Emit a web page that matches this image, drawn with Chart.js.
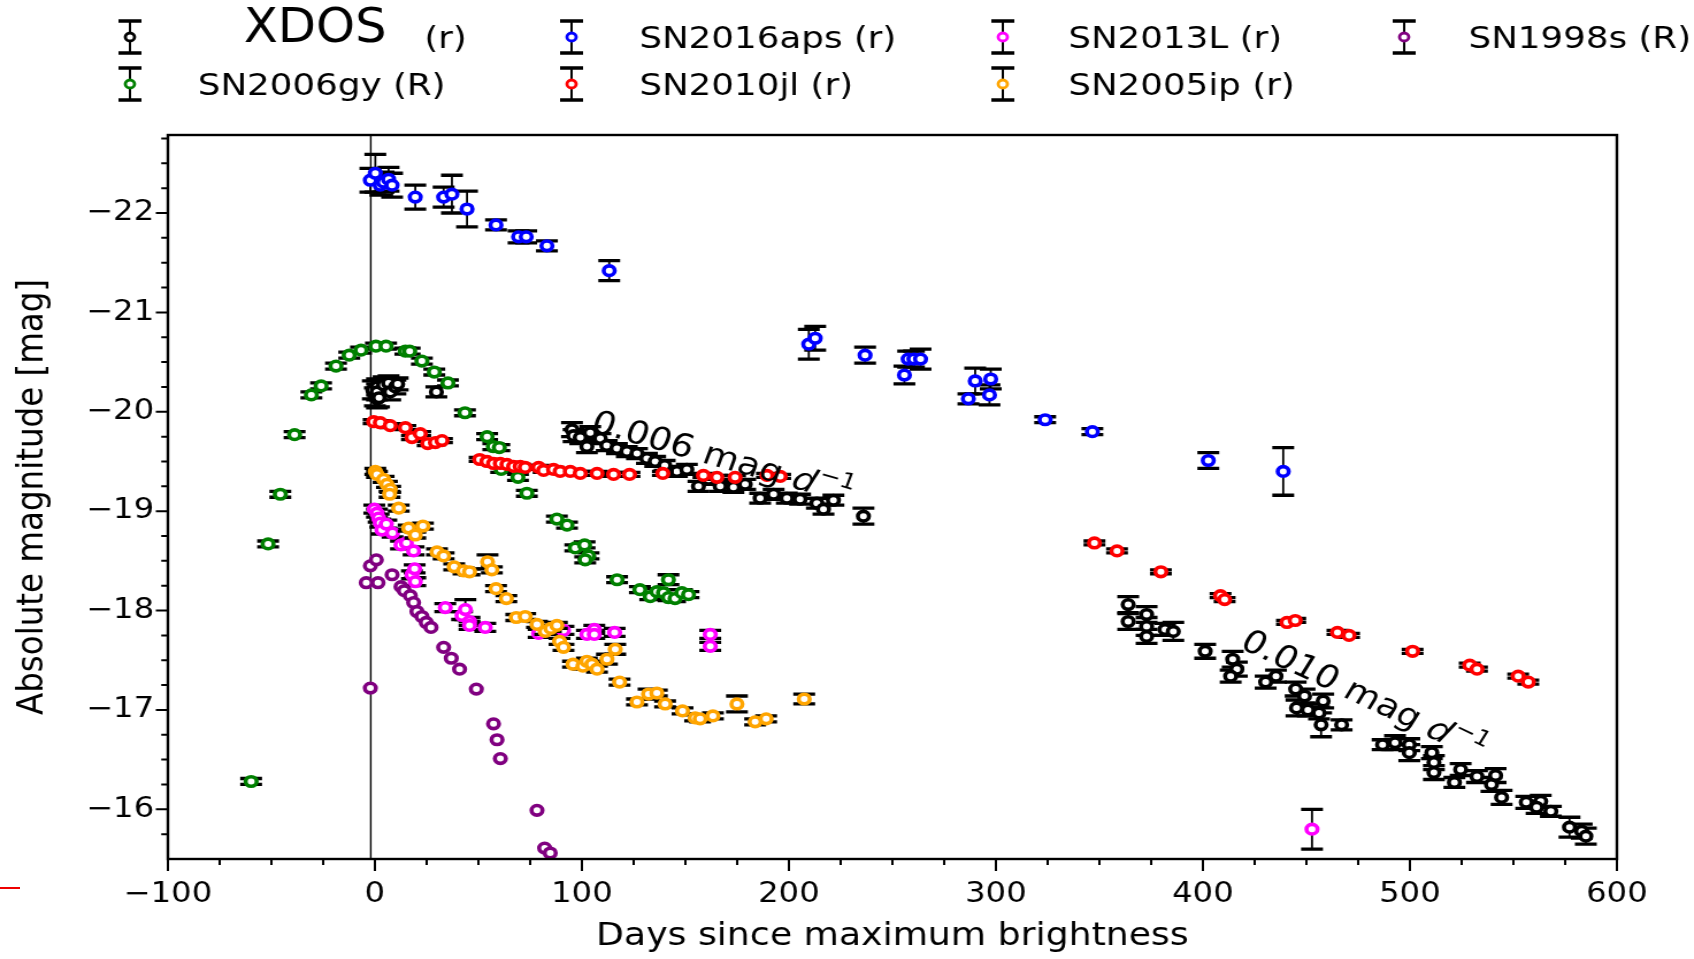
<!DOCTYPE html>
<html>
<head>
<meta charset="utf-8">
<script src="https://cdn.jsdelivr.net/npm/chart.js@4.4.1/dist/chart.umd.min.js"></script>
<style>
  body { margin: 0; background: #fff; overflow: hidden; }
  /* the reference figure is stretched sideways, so the whole canvas is too */
  #wrap { position: absolute; left: 0; top: 0; width: 1473px; height: 959px; transform: scaleX(1.15); transform-origin: 0 0; }
  #stray { position: absolute; left: 0; top: 887px; width: 20px; height: 2px; background: #e00; }
</style>
</head>
<body>
<div id="wrap"><canvas id="lc" width="1473" height="959"></canvas></div>
<div id="stray"></div>
<script>
const FONT = "'DejaVu Sans', sans-serif";

// light curves: days since max, absolute magnitude, error (mag)
const xdosDays = [-1, 0, 1, 1, 1, 2, 4.2, 6.6, 7.4, 9.9, 11, 29.7,
  95.2, 96, 99.2, 102.4, 104, 108.9, 112, 116.9, 121.7, 126.6, 131.4, 135.4, 140, 145.9, 150.7, 156.3, 161.2, 166.8, 173.2, 178.9, 186.1, 192.6, 199, 205.4, 213.5, 216.7, 221.5, 236,
  363.9, 363.9, 372.8, 372.8, 372.8, 381.7, 385.7, 401.1, 414.4, 416.4, 413.4, 430.3, 435.3, 444.8, 449.1, 445.2, 450.7, 458.1, 456.1, 457.1, 467, 486.8, 492.8, 499.7, 499.7, 510.6, 511.6, 511.6, 521.5, 524.5, 532.4, 539.4, 541.4, 544.3, 556.2, 563.2, 561.2, 568.1, 577.1, 583, 585];
const xdosMag = [-20.22, -20.15, -20.25, -20.20, -20.13, -20.14, -20.27, -20.29, -20.20, -20.25, -20.28, -20.20,
  -19.82, -19.76, -19.74, -19.65, -19.79, -19.73, -19.66, -19.63, -19.60, -19.58, -19.53, -19.50, -19.46, -19.40, -19.42, -19.25, -19.32, -19.25, -19.24, -19.27, -19.13, -19.17, -19.13, -19.12, -19.08, -19.02, -19.11, -18.95,
  -18.06, -17.89, -17.96, -17.84, -17.74, -17.81, -17.79, -17.59, -17.51, -17.41, -17.34, -17.28, -17.34, -17.21, -17.14, -17.02, -17.00, -17.09, -16.97, -16.85, -16.85, -16.65, -16.67, -16.65, -16.57, -16.57, -16.47, -16.37, -16.27, -16.40, -16.33, -16.25, -16.34, -16.12, -16.07, -16.08, -16.02, -15.98, -15.82, -15.78, -15.73];
const xdosErr = [0.09, 0.09, 0.08, 0.08, 0.09, 0.09, 0.08, 0.07, 0.08, 0.07, 0.06, 0.05,
  0.07, 0.06, 0.06, 0.06, 0.06, 0.05, 0.05, 0.05, 0.05, 0.05, 0.05, 0.05, 0.05, 0.05, 0.05, 0.05, 0.05, 0.05, 0.05, 0.05, 0.05, 0.05, 0.05, 0.05, 0.05, 0.05, 0.05, 0.08,
  0.08, 0.08, 0.08, 0.09, 0.07, 0.06, 0.09, 0.07, 0.08, 0.07, 0.06, 0.06, 0.06, 0.07, 0.07, 0.08, 0.06, 0.07, 0.06, 0.12, 0.05, 0.05, 0.07, 0.06, 0.08, 0.06, 0.07, 0.07, 0.05, 0.06, 0.06, 0.07, 0.07, 0.07, 0.06, 0.06, 0.06, 0.05, 0.10, 0.07, 0.08];

const gyDays = [-59.8, -51.6, -45.7, -38.8, -30.7, -26, -18.8, -12.4, -6.7, 0.5, 5.4, 14.7, 16.8, 22.7, 28.7, 35.3, 43.5, 54.2, 57.2, 60.1, 61, 69.1, 73.4, 87.9, 92.8, 96.8, 101.3, 103.2, 101.6, 117, 128, 133, 136.2, 139.4, 141.8, 141.8, 145, 148.3, 151.5];
const gyMag = [-16.28, -18.67, -19.17, -19.77, -20.17, -20.26, -20.46, -20.57, -20.62, -20.66, -20.66, -20.61, -20.61, -20.51, -20.40, -20.29, -19.99, -19.75, -19.65, -19.64, -19.42, -19.34, -19.18, -18.92, -18.86, -18.63, -18.66, -18.55, -18.51, -18.31, -18.21, -18.14, -18.19, -18.18, -18.31, -18.13, -18.12, -18.18, -18.16];
const gyErr = [0.03, 0.03, 0.03, 0.03, 0.03, 0.03, 0.03, 0.03, 0.03, 0.03, 0.03, 0.03, 0.03, 0.03, 0.03, 0.03, 0.03, 0.03, 0.03, 0.03, 0.03, 0.03, 0.03, 0.03, 0.03, 0.03, 0.03, 0.03, 0.03, 0.03, 0.03, 0.03, 0.03, 0.03, 0.05, 0.03, 0.03, 0.03, 0.03];

const apsDays = [-2.2, 0.2, 2.6, 4.2, 6.6, 8.3, 19.5, 33.2, 37.2, 44.5, 58.5, 69.4, 73.1, 83.1, 113.2, 209.6, 212.7, 236.8, 255.8, 257.6, 260.4, 263.6, 286.7, 290, 296.9, 297.5, 323.8, 346.6, 402.6, 438.8];
const apsMag = [-22.33, -22.40, -22.28, -22.31, -22.34, -22.28, -22.16, -22.16, -22.19, -22.04, -21.88, -21.76, -21.76, -21.67, -21.42, -20.68, -20.74, -20.57, -20.37, -20.53, -20.53, -20.53, -20.13, -20.31, -20.17, -20.33, -19.92, -19.80, -19.51, -19.40];
const apsErr = [0.12, 0.19, 0.10, 0.10, 0.12, 0.12, 0.12, 0.10, 0.19, 0.18, 0.05, 0.06, 0.06, 0.05, 0.10, 0.15, 0.12, 0.08, 0.09, 0.08, 0.08, 0.10, 0.05, 0.13, 0.10, 0.10, 0.03, 0.03, 0.08, 0.24];

const jlDays = [-0.6, 2.6, 7.4, 14.7, 17.9, 21.9, 25.5, 29.2, 32.4, 50.6, 54.1, 57.3, 60.6, 63.8, 67, 70.2, 72.6, 79.1, 81.5, 86.3, 89.5, 94.4, 99.2, 107.3, 115.3, 123, 139.1, 158.7, 165.2, 174, 189.4, 195.8, 347.6, 358.5, 379.7, 408.5, 410.5, 440.6, 444.6, 465, 470.6, 501.3, 528.9, 532.4, 552.3, 557.2];
const jlMag = [-19.90, -19.89, -19.86, -19.84, -19.74, -19.78, -19.68, -19.69, -19.71, -19.52, -19.50, -19.48, -19.48, -19.47, -19.45, -19.45, -19.44, -19.44, -19.41, -19.42, -19.40, -19.40, -19.38, -19.38, -19.37, -19.37, -19.38, -19.36, -19.34, -19.34, -19.36, -19.35, -18.68, -18.60, -18.39, -18.15, -18.11, -17.88, -17.90, -17.78, -17.75, -17.59, -17.45, -17.41, -17.34, -17.28];
const jlErr = [0.02, 0.02, 0.02, 0.02, 0.02, 0.02, 0.02, 0.02, 0.02, 0.02, 0.02, 0.02, 0.02, 0.02, 0.02, 0.02, 0.02, 0.02, 0.02, 0.02, 0.02, 0.02, 0.02, 0.02, 0.02, 0.02, 0.02, 0.02, 0.02, 0.02, 0.02, 0.02, 0.02, 0.02, 0.02, 0.02, 0.02, 0.02, 0.02, 0.02, 0.02, 0.02, 0.02, 0.02, 0.02, 0.02];

const l13Days = [-0.3, 1, 1.8, 2.6, 3.4, 5.5, 8.5, 12.6, 15.2, 17.9, 18.7, 19.2, 19.5, 34, 42.1, 43.7, 45.7, 45.7, 53.3, 79.1, 91.1, 102.4, 106, 106, 115.8, 162, 162, 452.7];
const l13Mag = [-19.02, -18.98, -18.93, -18.88, -18.81, -18.87, -18.78, -18.66, -18.68, -18.36, -18.60, -18.42, -18.29, -18.03, -17.95, -18.01, -17.89, -17.85, -17.83, -17.77, -17.80, -17.76, -17.81, -17.76, -17.78, -17.76, -17.64, -15.80];
const l13Err = [0.04, 0.04, 0.04, 0.04, 0.04, 0.04, 0.04, 0.04, 0.04, 0.04, 0.04, 0.04, 0.04, 0.04, 0.04, 0.10, 0.04, 0.04, 0.04, 0.04, 0.04, 0.04, 0.04, 0.04, 0.04, 0.04, 0.04, 0.20];

const ipDays = [0.2, 1, 4.2, 5.8, 7.4, 7.1, 11.5, 16.3, 19.5, 23.2, 30, 33.2, 38.3, 42.8, 45.7, 54.4, 56.5, 58.5, 63.5, 68.3, 72.6, 78.3, 82.3, 85, 87.9, 89.2, 91.1, 95.7, 100.5, 102.4, 104.8, 107.3, 112.1, 116.1, 118.2, 126.6, 132.2, 136.2, 140.2, 148.6, 154.7, 157.1, 163.3, 174.9, 183.7, 189, 207.4];
const ipMag = [-19.40, -19.37, -19.32, -19.27, -19.22, -19.17, -19.03, -18.83, -18.76, -18.85, -18.59, -18.55, -18.44, -18.40, -18.39, -18.49, -18.41, -18.22, -18.12, -17.93, -17.94, -17.86, -17.79, -17.82, -17.85, -17.69, -17.63, -17.46, -17.44, -17.49, -17.46, -17.41, -17.51, -17.61, -17.28, -17.08, -17.16, -17.17, -17.06, -16.99, -16.92, -16.91, -16.94, -17.06, -16.88, -16.91, -17.11];
const ipErr = [0.03, 0.03, 0.03, 0.03, 0.03, 0.03, 0.03, 0.03, 0.03, 0.03, 0.03, 0.03, 0.03, 0.03, 0.03, 0.07, 0.03, 0.03, 0.03, 0.03, 0.03, 0.03, 0.03, 0.03, 0.03, 0.03, 0.03, 0.03, 0.03, 0.03, 0.03, 0.03, 0.05, 0.05, 0.03, 0.03, 0.05, 0.03, 0.03, 0.03, 0.03, 0.03, 0.03, 0.08, 0.03, 0.03, 0.05];

// SN1998s has no error bars
const s98Days = [-4.2, -2.2, 0.7, 1.5, 8.3, 12.6, 14.2, 17.1, 18.7, 20.3, 22.7, 24.8, 27.1, 33.2, 36.9, 40.9, 49, 57.3, 59, 60.6, -2.2, 78.3, 82, 84.7];
const s98Mag = [-18.28, -18.45, -18.51, -18.28, -18.36, -18.24, -18.20, -18.15, -18.08, -17.99, -17.94, -17.88, -17.83, -17.63, -17.52, -17.41, -17.21, -16.86, -16.70, -16.51, -17.22, -15.99, -15.61, -15.56];

const seriesLabels = ['XDOS (r)', 'SN2006gy (R)', 'SN2016aps (r)', 'SN2010jl (r)', 'SN2013L (r)', 'SN2005ip (r)', 'SN1998s (R)'];
const seriesColors = ['#000000', '#008000', '#0000ff', '#ff0000', '#ff00ff', '#ffa500', '#800080'];

const xTicks = [-100, 0, 100, 200, 300, 400, 500, 600];
const yTicks = [-22, -21, -20, -19, -18, -17, -16];
const vlineDay = -2;
const notes = [
  { text: '0.006 mag', day: 168, mag: -19.56, angle: 18 },
  { text: '0.010 mag', day: 478, mag: -17.17, angle: 28.5 }
];

const allDays = [xdosDays, gyDays, apsDays, jlDays, l13Days, ipDays, s98Days];
const allMag = [xdosMag, gyMag, apsMag, jlMag, l13Mag, ipMag, s98Mag];
const allErr = [xdosErr, gyErr, apsErr, jlErr, l13Err, ipErr, null];

const fmt = v => (v < 0 ? '\u2212' : '') + Math.abs(v);

// black error bars, drawn just before each series' markers (like plt.errorbar)
const errorBars = {
  id: 'errorBars',
  beforeDatasetDraw(chart, args) {
    const ds = chart.data.datasets[args.index];
    if (!ds.errors) return;
    const { ctx, chartArea: a } = chart;
    const ys = chart.scales.y;
    ctx.save();
    ctx.beginPath();
    ctx.rect(a.left, a.top, a.right - a.left, a.bottom - a.top);
    ctx.clip();
    ctx.strokeStyle = '#000';
    args.meta.data.forEach((pt, i) => {
      const e = ds.errors[i];
      const v = ds.data[i].y;
      const y1 = ys.getPixelForValue(v - e), y2 = ys.getPixelForValue(v + e);
      ctx.lineWidth = 1.8;
      ctx.beginPath(); ctx.moveTo(pt.x, y1); ctx.lineTo(pt.x, y2); ctx.stroke();
      ctx.lineWidth = 3.3;
      ctx.beginPath();
      ctx.moveTo(pt.x - 9.5, y1); ctx.lineTo(pt.x + 9.5, y1);
      ctx.moveTo(pt.x - 9.5, y2); ctx.lineTo(pt.x + 9.5, y2);
      ctx.stroke();
    });
    ctx.restore();
  }
};

// frame, ticks (major + minor) and the vertical line at max
const frame = {
  id: 'frame',
  beforeDatasetsDraw(chart) {
    const { ctx, chartArea: a, scales: { x } } = chart;
    const px = x.getPixelForValue(vlineDay);
    ctx.save();
    ctx.strokeStyle = '#000'; ctx.lineWidth = 1.4;
    ctx.beginPath(); ctx.moveTo(px, a.top); ctx.lineTo(px, a.bottom); ctx.stroke();
    ctx.restore();
  },
  afterDatasetsDraw(chart) {
    const { ctx, chartArea: a, scales: { x, y } } = chart;
    ctx.save();
    ctx.strokeStyle = '#000';
    ctx.lineWidth = 2.4;
    ctx.strokeRect(a.left, a.top, a.right - a.left, a.bottom - a.top);
    ctx.lineWidth = 2;
    ctx.beginPath();
    for (let v = x.min; v <= x.max + 0.01; v += 25) {
      const p = x.getPixelForValue(v);
      const len = xTicks.includes(v) ? 12 : 6;
      ctx.moveTo(p, a.bottom); ctx.lineTo(p, a.bottom + len);
    }
    for (let v = -22.75; v < y.max - 0.01; v += 0.25) {
      const p = y.getPixelForValue(v);
      const len = Math.abs(v - Math.round(v)) < 0.01 ? 10.5 : 5.8;
      ctx.moveTo(a.left, p); ctx.lineTo(a.left - len, p);
    }
    ctx.stroke();
    ctx.restore();
  }
};

// rotated decline-rate labels
const notesPlugin = {
  id: 'notes',
  afterDatasetsDraw(chart) {
    const { ctx, scales: { x, y } } = chart;
    notes.forEach(n => {
      ctx.save();
      ctx.translate(x.getPixelForValue(n.day), y.getPixelForValue(n.mag));
      ctx.rotate(n.angle * Math.PI / 180);
      ctx.fillStyle = '#000';
      ctx.textBaseline = 'alphabetic';
      ctx.textAlign = 'left';
      const f1 = '32px ' + FONT, f2 = 'italic 32px ' + FONT, f3 = '22px ' + FONT;
      ctx.font = f1; const w1 = ctx.measureText(n.text + ' ').width;
      ctx.font = f2; const w2 = ctx.measureText('d').width;
      ctx.font = f3; const w3 = ctx.measureText('\u22121').width;
      let sx = -(w1 + w2 + w3) / 2;
      ctx.font = f1; ctx.fillText(n.text + ' ', sx, 12); sx += w1;
      ctx.font = f2; ctx.fillText('d', sx, 12); sx += w2 + 1;
      ctx.font = f3; ctx.fillText('\u22121', sx, -2);
      ctx.restore();
    });
  }
};

// matplotlib style legend, 4 columns filled column-wise
const legendPos = { markerX: [113, 497, 872, 1221], textX: [172, 556, 929, 1277], rowY: [37, 84] };
const legendPlugin = {
  id: 'mplLegend',
  afterDraw(chart) {
    const ctx = chart.ctx;
    ctx.save();
    chart.data.datasets.forEach((ds, i) => {
      const col = Math.floor(i / 2), row = i % 2;
      const mx = legendPos.markerX[col], my = legendPos.rowY[row];
      ctx.strokeStyle = '#000';
      ctx.lineWidth = 2;
      ctx.beginPath(); ctx.moveTo(mx, my - 16); ctx.lineTo(mx, my + 16); ctx.stroke();
      ctx.lineWidth = 3.5;
      ctx.beginPath();
      ctx.moveTo(mx - 10, my - 16); ctx.lineTo(mx + 10, my - 16);
      ctx.moveTo(mx - 10, my + 16); ctx.lineTo(mx + 10, my + 16);
      ctx.stroke();
      ctx.beginPath(); ctx.arc(mx, my, 4, 0, Math.PI * 2);
      ctx.fillStyle = '#fff'; ctx.fill();
      ctx.strokeStyle = ds.borderColor; ctx.lineWidth = 2.8; ctx.stroke();
      ctx.fillStyle = '#000';
      ctx.textAlign = 'left';
      ctx.textBaseline = 'middle';
      if (i === 0) {
        const [name, band] = ds.label.split(' ');
        ctx.font = "48px 'Liberation Sans Narrow', 'DejaVu Sans Condensed', sans-serif";
        ctx.fillText(name, 212, 30);
        ctx.font = '31px ' + FONT;
        ctx.fillText(band, 369, my + 3);
      } else {
        ctx.font = '31px ' + FONT;
        ctx.fillText(ds.label, legendPos.textX[col], my + 3);
      }
    });
    ctx.restore();
  }
};

const datasets = seriesLabels.map((label, i) => ({
  label,
  data: allDays[i].map((d, j) => ({ x: d, y: allMag[i][j] })),
  errors: allErr[i],
  borderColor: seriesColors[i],
  backgroundColor: '#ffffff',
  pointRadius: 4.8,
  pointHoverRadius: 4.8,
  pointBorderWidth: 3.6,
  showLine: false,
  order: seriesLabels.length - i
}));

new Chart(document.getElementById('lc'), {
  type: 'scatter',
  data: { datasets },
  plugins: [errorBars, frame, notesPlugin, legendPlugin],
  options: {
    responsive: false,
    animation: false,
    devicePixelRatio: 1,
    events: [],
    layout: { padding: { top: 135, right: 67, left: 0, bottom: 0 } },
    plugins: { legend: { display: false }, tooltip: { enabled: false } },
    scales: {
      x: {
        type: 'linear', min: -100, max: 600,
        afterBuildTicks: s => { s.ticks = xTicks.map(v => ({ value: v })); },
        afterFit: s => { s.height = 100; },
        grid: { display: false, drawTicks: false },
        border: { display: false },
        ticks: { color: '#000', font: { family: FONT, size: 28 }, padding: 19, maxRotation: 0, autoSkip: false, callback: fmt },
        title: { display: true, text: 'Days since maximum brightness', color: '#000', font: { family: FONT, size: 31.5 }, padding: { top: 0, bottom: 3 } }
      },
      y: {
        type: 'linear', reverse: true, min: -22.785, max: -15.5,
        afterBuildTicks: s => { s.ticks = yTicks.map(v => ({ value: v })); },
        afterFit: s => { s.width = 146; },
        grid: { display: false, drawTicks: false },
        border: { display: false },
        ticks: { color: '#000', font: { family: FONT, size: 28 }, padding: 12, autoSkip: false, callback: fmt },
        title: { display: true, text: 'Absolute magnitude [mag]', color: '#000', font: { family: FONT, size: 32.5 }, padding: { top: 9, bottom: 0 } }
      }
    }
  }
});
</script>
</body>
</html>
